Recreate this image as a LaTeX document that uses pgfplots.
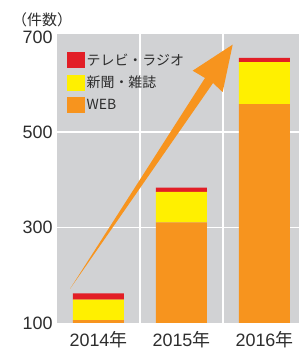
\documentclass[border=0pt]{standalone}
\usepackage{fontspec}
\setmainfont{Liberation Sans}
\newfontfamily\jp{Noto Sans CJK JP}
\usepackage{pgfplots}
\pgfplotsset{compat=1.18}
\definecolor{bggray}{RGB}{209,210,212}
\definecolor{weborange}{RGB}{247,148,30}
\definecolor{paperyellow}{RGB}{255,240,0}
\definecolor{tvred}{RGB}{226,30,38}
\definecolor{txt}{RGB}{45,45,45}
\begin{document}
\begin{tikzpicture}
\useasboundingbox (-57bp,-29bp) rectangle (242bp,323bp);
\begin{axis}[
  at={(0,0)}, anchor=south west,
  scale only axis, width=242bp, height=289bp,
  xmin=-0.5, xmax=2.416, ymin=100, ymax=706,
  axis background/.style={fill=bggray},
  axis line style={draw=none},
  ybar stacked, bar width=51bp,
  xtick={0,1,2},
  xticklabels={2014{\jp 年}, 2015{\jp 年}, 2016{\jp 年}},
  minor xtick={0.5,1.5}, xminorgrids,
  minor grid style={white, line width=1.6bp},
  ytick={300,500}, extra y ticks={100,700},
  extra y tick style={grid=none},
  ymajorgrids, major grid style={white, line width=1.6bp},
  major tick length=0pt, minor tick length=0pt,
  tick label style={font=\fontsize{18}{20}\selectfont, text=txt},
  /pgf/number format/assume math mode=true,
  yticklabel style={xshift=-1bp},
  xticklabel style={yshift=-5bp},
  legend style={at={(0.041,0.938)}, anchor=north west, draw=none, fill=none,
    inner sep=0pt, row sep=6.5bp, font=\jp\fontsize{14}{16}\selectfont, text=txt,
    nodes={inner sep=1.5bp}},
  legend cell align=left,
  legend image code/.code={\fill[#1, draw=none] (0bp,-8bp) rectangle (18bp,8bp);},
  reverse legend,
]
\addplot[fill=weborange, draw=none] coordinates {(0,106) (1,311) (2,559)};
\addplot[fill=paperyellow, draw=none] coordinates {(0,43) (1,64) (2,88)};
\addplot[fill=tvred, draw=none] coordinates {(0,13) (1,9) (2,9)};
\legend{WEB, 新聞・雑誌, テレビ・ラジオ}
\fill[weborange] (axis cs:-0.343,171.6) -- (axis cs:1.283,613.7) -- (axis cs:1.135,629.1)
  -- (axis cs:1.617,683.8) -- (axis cs:1.496,584.2) -- (axis cs:1.380,603.2) -- cycle;
\end{axis}
\node[anchor=west, font=\jp\fontsize{15}{15}\selectfont, text=txt, inner sep=0pt] at (-45bp,303bp) {（件数）};
\end{tikzpicture}
\end{document}
